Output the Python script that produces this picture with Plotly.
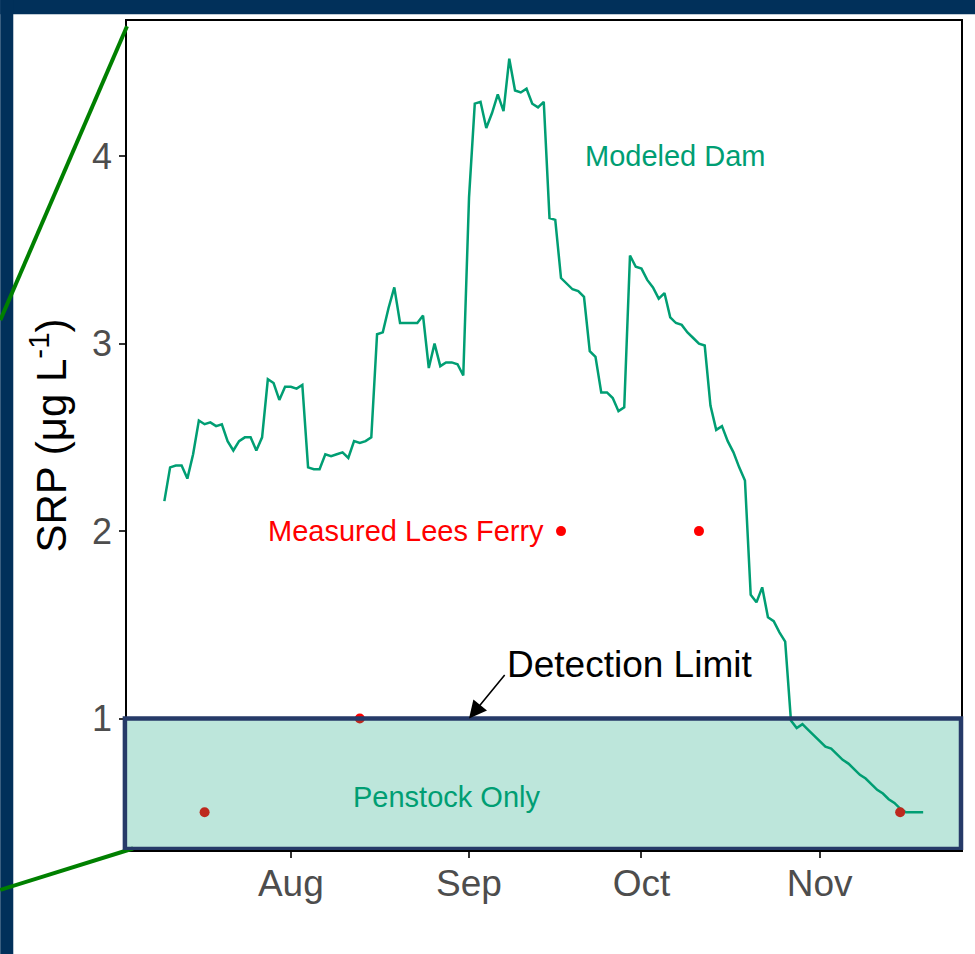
import pandas as pd
import plotly.graph_objects as go

# ---------------- data ----------------
model_start = "2019-07-10"
model_srp = [
    2.16, 2.34, 2.35, 2.35, 2.28, 2.41, 2.59, 2.57, 2.58, 2.56, 2.57, 2.48,   # Jul 10-21
    2.43, 2.48, 2.50, 2.50, 2.43, 2.50, 2.81, 2.79, 2.70, 2.77,               # Jul 22-31
    2.77, 2.76, 2.78, 2.34, 2.33, 2.33, 2.41, 2.40, 2.41, 2.42, 2.39, 2.48,   # Aug 1-12
    2.47, 2.48, 2.50, 3.05, 3.06, 3.19, 3.30, 3.11, 3.11, 3.11, 3.11, 3.15,   # Aug 13-24
    2.87, 3.00, 2.88, 2.90, 2.90, 2.89, 2.83,                                 # Aug 25-31
    3.78, 4.28, 4.29, 4.15, 4.23, 4.33, 4.24, 4.52, 4.35, 4.34, 4.36, 4.28,   # Sep 1-12
    4.26, 4.29, 3.67, 3.66, 3.35, 3.32, 3.29, 3.28, 3.25, 2.96, 2.93, 2.74,   # Sep 13-24
    2.74, 2.71, 2.64, 2.66, 3.47, 3.41,                                       # Sep 25-30
    3.40, 3.34, 3.30, 3.24, 3.27, 3.14, 3.11, 3.10, 3.06, 3.03, 3.00, 2.99,   # Oct 1-12
    2.67, 2.54, 2.56, 2.48, 2.42, 2.34, 2.27, 1.66, 1.62, 1.70, 1.54, 1.52,   # Oct 13-24
    1.46, 1.41, 0.99, 0.95, 0.97, 0.94, 0.91,                                 # Oct 25-31
    0.88, 0.85, 0.84, 0.81, 0.78, 0.76, 0.73, 0.70, 0.68, 0.65, 0.62, 0.60,   # Nov 1-12
    0.57, 0.55, 0.52, 0.50, 0.50, 0.50, 0.50,                                 # Nov 13-19
]
model_dates = pd.date_range(model_start, periods=len(model_srp), freq="D")

measured_dates = ["2019-07-17", "2019-08-13", "2019-09-17", "2019-10-11", "2019-11-15"]
measured_srp = [0.5, 1.0, 2.0, 2.0, 0.5]

detection_limit = 1.0

tick_dates = ["2019-08-01", "2019-09-01", "2019-10-01", "2019-11-01"]
tick_labels = ["Aug", "Sep", "Oct", "Nov"]
y_ticks = [1, 2, 3, 4]

x_range = ["2019-07-03 12:00", "2019-11-25 14:00"]
y_range = [0.299, 4.721]

# ---------------- styles ----------------
TEAL = "#009E73"
NAVY_BG = "#01305A"
RECT_LINE = "#263A68"
FONT = "Liberation Sans, Arial, sans-serif"

fig = go.Figure()

fig.add_trace(go.Scatter(
    x=model_dates, y=model_srp, mode="lines",
    line=dict(color=TEAL, width=2.5), showlegend=False, hoverinfo="skip"))

fig.add_trace(go.Scatter(
    x=measured_dates, y=measured_srp, mode="markers",
    marker=dict(color="#FF0000", size=10, line=dict(width=0)),
    showlegend=False, hoverinfo="skip"))

shapes = [
    # slide background strips
    dict(type="rect", xref="paper", yref="paper", x0=-0.1520, x1=1.02, y0=1.00808, y1=1.03,
         fillcolor=NAVY_BG, line=dict(width=0), layer="above"),
    dict(type="rect", xref="paper", yref="paper", x0=-0.1520, x1=-0.13636, y0=-0.13, y1=1.03,
         fillcolor=NAVY_BG, line=dict(width=0), layer="above"),
    # zoom connector lines
    dict(type="line", xref="paper", yref="paper", x0=0.0, y0=0.9936, x1=-0.1520, y1=0.6391,
         line=dict(color="#008000", width=4), layer="above"),
    dict(type="line", xref="paper", yref="paper", x0=0.0072, y0=0.0018, x1=-0.1520, y1=-0.0482,
         line=dict(color="#008000", width=4), layer="above"),
    # penstock-only / below detection region
    dict(type="rect", xref="paper", yref="y", x0=-0.0025, x1=1.0, y0=0.304, y1=detection_limit,
         fillcolor="rgba(0,158,115,0.26)", line=dict(color=RECT_LINE, width=4.5), layer="above"),
]

annotations = [
    dict(x="2019-10-07", y=4.0, text="Modeled Dam", showarrow=False,
         font=dict(color=TEAL, size=29, family=FONT)),
    dict(x="2019-08-21", y=2.0, text="Measured Lees Ferry", showarrow=False,
         font=dict(color="#FF0000", size=29, family=FONT)),
    dict(x="2019-08-28", y=0.58, text="Penstock Only", showarrow=False,
         font=dict(color=TEAL, size=29, family=FONT)),
    dict(x="2019-09-29", y=1.29, text="Detection Limit", showarrow=False,
         font=dict(color="black", size=37, family=FONT)),
    dict(x="2019-09-01", y=1.0, ax="2019-09-07 10:00", ay=1.24, axref="x", ayref="y",
         text="", showarrow=True, arrowhead=2, arrowsize=2.2, arrowwidth=1.6,
         arrowcolor="black", standoff=0),
]

fig.update_layout(
    width=975, height=954,
    margin=dict(l=127, r=12, t=21, b=104, pad=0),
    paper_bgcolor="white", plot_bgcolor="white",
    font=dict(family=FONT),
    shapes=shapes, annotations=annotations,
    showlegend=False,
)

fig.update_xaxes(
    range=x_range, tickvals=tick_dates, ticktext=tick_labels,
    showgrid=False, zeroline=False, showline=True, mirror=True,
    linecolor="black", linewidth=1.5,
    ticks="outside", ticklen=6, tickwidth=1.5, tickcolor="#333333",
    ticklabelstandoff=-6,
    tickfont=dict(size=37, color="#4D4D4D", family=FONT),
)
fig.update_yaxes(
    range=y_range, tickvals=y_ticks, ticktext=[str(v) for v in y_ticks],
    showgrid=False, zeroline=False, showline=True, mirror=True,
    linecolor="black", linewidth=1.5,
    ticks="outside", ticklen=6, tickwidth=1.5, tickcolor="#333333",
    tickfont=dict(size=36, color="#4D4D4D", family=FONT),
    title=dict(text="SRP (\u03bcg L<sup>-1</sup>)", standoff=12,
               font=dict(size=42, color="black", family=FONT)),
)

fig.write_html(
    "out.html",
    config={"displayModeBar": False},
    post_script="document.body.style.margin='0';document.body.style.padding='0';"
                "document.body.style.overflow='hidden';",
)
